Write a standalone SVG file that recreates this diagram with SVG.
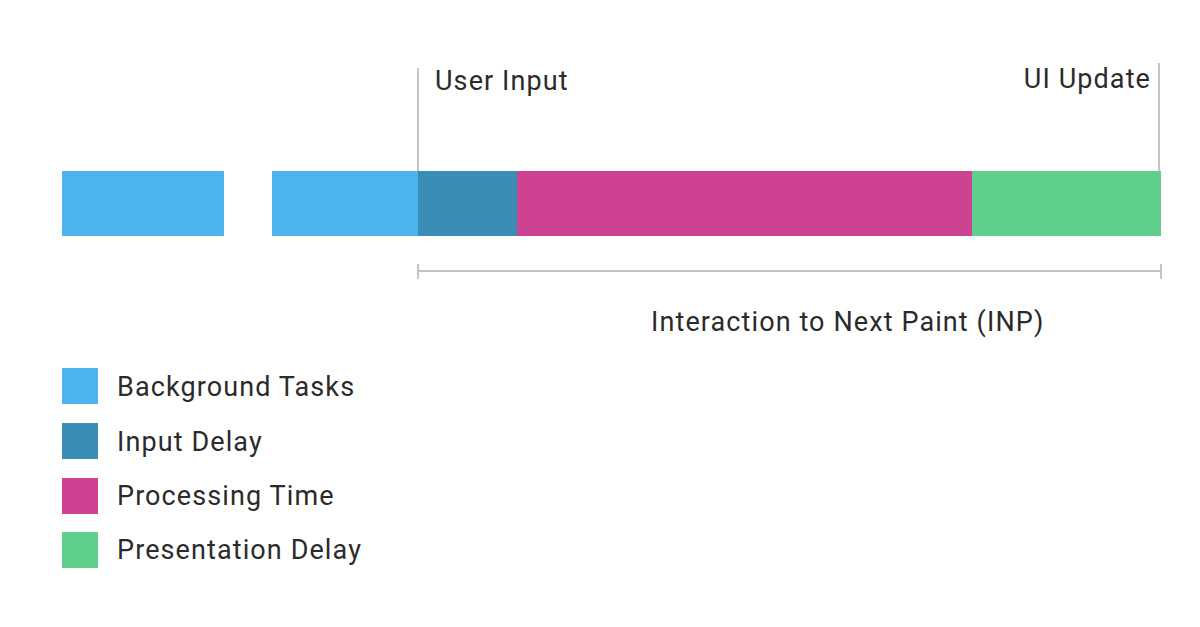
<svg xmlns="http://www.w3.org/2000/svg" width="1200" height="627" viewBox="0 0 1200 627">
<style>
text{font-family:Roboto,"Liberation Sans",sans-serif;fill:#2b2b2b;font-size:27px;letter-spacing:1.1px}
.bg{fill:#4bb4ec}.id{fill:#3a8db5}.pt{fill:#cd4392}.pd{fill:#5fcf8b}
.ln{stroke:#c4c4c4;stroke-width:2;fill:none}
</style>
<rect width="1200" height="627" fill="#fff"/>
<g id="bar-bg1"><rect class="bg" x="62" y="171" width="162" height="65"/></g>
<g id="bar-bg2"><rect class="bg" x="272" y="171" width="146" height="65"/></g>
<g id="bar-input"><rect class="id" x="418" y="171" width="100" height="65"/></g>
<g id="bar-processing"><rect class="pt" x="517" y="171" width="455" height="65"/></g>
<g id="bar-presentation"><rect class="pd" x="972" y="171" width="189" height="65"/></g>
<g id="connectors">
<line class="ln" x1="418" y1="68" x2="418" y2="171"/>
<line class="ln" x1="1159" y1="63" x2="1159" y2="171"/>
<line class="ln" x1="418" y1="271" x2="1161" y2="271"/>
<line class="ln" x1="418" y1="264" x2="418" y2="279"/>
<line class="ln" x1="1161" y1="264" x2="1161" y2="279"/>
</g>
<g id="label-user-input"><text x="435" y="90">User Input</text></g>
<g id="label-ui-update"><text x="1151" y="88" text-anchor="end">UI Update</text></g>
<g id="label-inp"><text x="651" y="331">Interaction to Next Paint (INP)</text></g>
<g id="legend-bg"><rect class="bg" x="62" y="368" width="36" height="36"/><text x="117" y="396">Background Tasks</text></g>
<g id="legend-input"><rect class="id" x="62" y="423" width="36" height="36"/><text x="117" y="451">Input Delay</text></g>
<g id="legend-processing"><rect class="pt" x="62" y="478" width="36" height="36"/><text x="117" y="505">Processing Time</text></g>
<g id="legend-presentation"><rect class="pd" x="62" y="532" width="36" height="36"/><text x="117" y="559">Presentation Delay</text></g>
</svg>
